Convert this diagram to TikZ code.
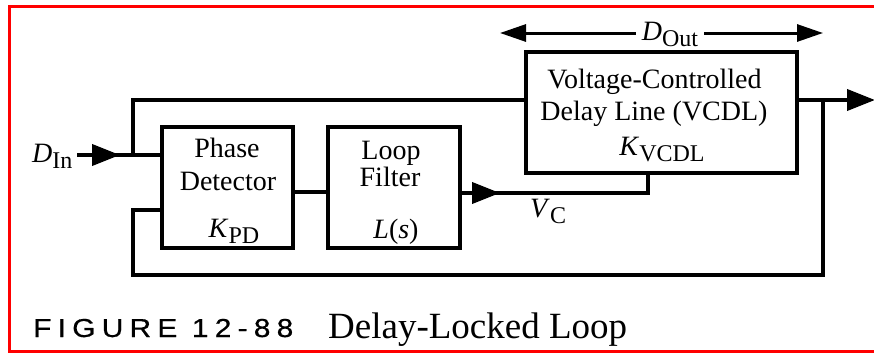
\documentclass[tikz,border=0pt]{standalone}
\usepackage{fontspec}
\setmainfont{Liberation Serif}
\newfontfamily\capfont[LetterSpace=24,FakeStretch=1.15,FakeBold=0.6]{Liberation Sans}
\usetikzlibrary{arrows.meta}
\newcommand\lowsub[1]{\raisebox{-6pt}{\fontsize{24}{26}\selectfont #1}}
\begin{document}
\begin{tikzpicture}[x=1pt,y=-1pt,
  wire/.style={line width=4pt},
  blk/.style={draw,line width=4pt,rectangle,inner sep=0pt,minimum height=121pt},
  lbl/.style={anchor=base,inner sep=0pt,font=\fontsize{28}{30}\selectfont},
  head/.style={-{Triangle[length=28pt,width=21pt]},line width=4pt},
  dimhead/.style={-{Triangle[length=26pt,width=17pt]},line width=3pt}
]
\useasboundingbox (0,0) rectangle (874,354);
\fill[white] (0,0) rectangle (874,354);
% red frame
\draw[red,line width=3pt] (880,6.5) -- (9.5,6.5) -- (9.5,351) -- (880,351);

% blocks
\node[blk,minimum width=131pt] (PD) at (227.5,187.5) {};
\node[blk,minimum width=132pt] (LF) at (394,187.5) {};
\node[blk,minimum width=271pt] (VCDL) at (661.5,112.5) {};

% block texts
\node[lbl] (t1) at (227,157) {Phase};
\node[lbl] (t2) at (228,190) {Detector};
\node[lbl] (t3) at (234,237) {\textit{K}\lowsub{PD}};
\node[lbl] (t4) at (391,159) {Loop};
\node[lbl] (t5) at (390,186) {Filter};
\node[lbl] (t6) at (396,238) {\textit{L}(\textit{s})};
\node[lbl] (t7) at (654.5,88) {Voltage-Controlled};
\node[lbl] (t8) at (654,120) {Delay Line (VCDL)};
\node[lbl] (t9) at (662,155) {\textit{K}\lowsub{VCDL}};

% coordinates
\coordinate (din) at (77,155);
\coordinate (dintip) at (120,155);
\coordinate (split) at (133,155);
\coordinate (pdin) at (PD.west |- split);
\coordinate (topL) at (133,100);
\coordinate (vin) at (VCDL.west |- topL);
\coordinate (vout) at (VCDL.east |- topL);
\coordinate (tap) at (823,100);
\coordinate (dout) at (875,100);
\coordinate (botR) at (823,275);
\coordinate (botL) at (133,275);
\coordinate (fbL) at (133,210);
\coordinate (pdfb) at (PD.west |- fbL);
\coordinate (pdlf) at (0,192);
\coordinate (vc) at (648,193);
\coordinate (vctip) at (500,193);

% input
\draw[wire] (din) -- (pdin);
\draw[head] (din) -- (dintip);
\draw[wire,line join=miter] (split) -- (topL) -- (vin);
% output and feedback
\draw[wire] (vout) -- (tap);
\draw[head] (tap) -- (dout);
\draw[wire,line join=miter] (tap) -- (botR) -- (botL) -- (fbL) -- (pdfb);
% PD to LF
\draw[wire] (PD.east |- pdlf) -- (LF.west |- pdlf);
% LF to VCDL control
\draw[wire,line join=miter] (LF.east |- vc) -- (vc) -- (VCDL.south -| vc);
\draw[head] (LF.east |- vc) -- (vctip);

% signal labels
\node[lbl,anchor=base west] (dinl) at (32,162) {\textit{D}\lowsub{In}};
\node[lbl,anchor=base west] (vcl) at (530,217) {\textit{V}\lowsub{C}};
\node[lbl,inner xsep=6pt] (doutl) at (670,40) {\textit{D}\lowsub{Out}};
\coordinate (dl) at (500,33);
\coordinate (dr) at (823,33);
\draw[dimhead] (doutl.west |- dl) -- (dl);
\draw[dimhead] (doutl.east |- dr) -- (dr);

% caption
\node[anchor=base west,inner sep=0pt,font=\capfont\fontsize{26}{28}\selectfont] (cap1) at (33,337) {FIGURE 12-88};
\node[anchor=base west,inner sep=0pt,font=\fontsize{37}{40}\selectfont] (cap2) at (328,338) {Delay-Locked Loop};
\end{tikzpicture}
\end{document}
